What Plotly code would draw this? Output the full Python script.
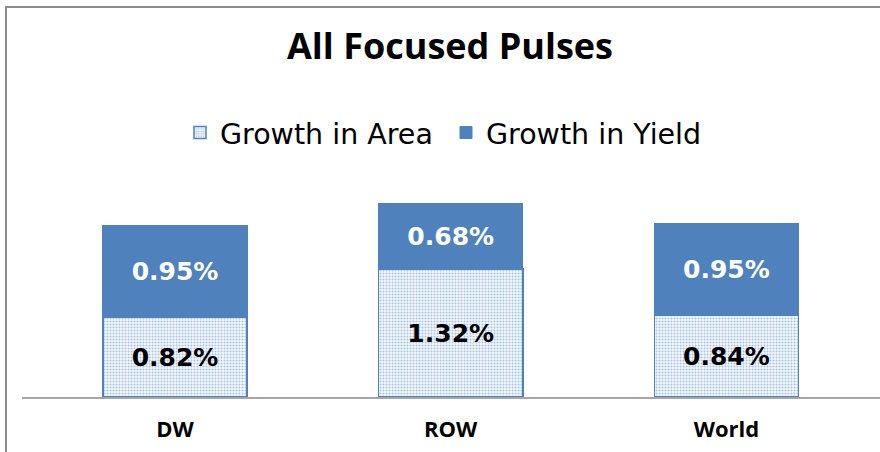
import plotly.graph_objects as go

categories = ["DW", "ROW", "World"]
growth_area = [0.82, 1.32, 0.84]
growth_yield = [0.95, 0.68, 0.95]
title_text = "All Focused Pulses"
series_names = ["Growth in Area", "Growth in Yield"]

BLUE = "#4F81BD"
W, H = 880, 452
L, R, T, B = 22, 0, 155, 55
pw, ph = W - L - R, H - T - B

fig = go.Figure()
fig.add_trace(go.Bar(
    x=categories, y=growth_area, name=series_names[0],
    width=0.523,
    marker=dict(color="white", line=dict(color=BLUE, width=1.5),
                pattern=dict(shape=".", fgcolor="#5E8CC8", bgcolor="#F4F8FD",
                             size=3, solidity=0.35)),
    texttemplate="%{y:.2f}%", textposition="inside", insidetextanchor="middle",
    textangle=0,
    textfont=dict(family="DejaVu Sans", size=25, color="black", weight="bold"),
))
fig.add_trace(go.Bar(
    x=categories, y=growth_yield, name=series_names[1],
    width=0.523,
    marker=dict(color=BLUE, line=dict(color=BLUE, width=1)),
    texttemplate="%{y:.2f}%", textposition="inside", insidetextanchor="middle",
    textangle=0,
    textfont=dict(family="DejaVu Sans", size=25, color="white", weight="bold"),
))

fig.update_layout(
    width=W, height=H,
    margin=dict(l=L, r=R, t=T, b=B, pad=0),
    barmode="stack",
    paper_bgcolor="white", plot_bgcolor="white",
    title=dict(text=title_text, x=450 / W, xanchor="center",
               y=(H - 46) / H, yanchor="middle", yref="container",
               font=dict(family="Open Sans", size=36, color="black", weight="bold")),
    legend=dict(orientation="h", x=(180 - L) / pw, xanchor="left",
                y=(397 - 133) / ph, yanchor="middle",
                entrywidth=221, entrywidthmode="pixels",
                font=dict(family="DejaVu Sans", size=28.5, color="black"),
                traceorder="normal", itemclick=False),
    showlegend=True,
    xaxis=dict(range=[-0.555, 2.557], showline=True, linecolor="#A6A6A6",
               linewidth=1.5, ticks="outside", ticklen=12,
               tickcolor="rgba(0,0,0,0)", showgrid=False,
               tickfont=dict(family="Open Sans", size=22, color="black", weight="bold")),
    yaxis=dict(range=[0, 2.5], visible=False, showgrid=False),
    shapes=[dict(type="rect", xref="paper", yref="paper",
                 x0=(6 - L) / pw, x1=1.05, y0=-0.5, y1=(397 - 7) / ph,
                 line=dict(color="#8C8C8C", width=2), fillcolor="rgba(0,0,0,0)",
                 layer="below")],
)

fig.write_html("out.html", config={"displayModeBar": False},
               post_script="document.body.style.margin='0';")
